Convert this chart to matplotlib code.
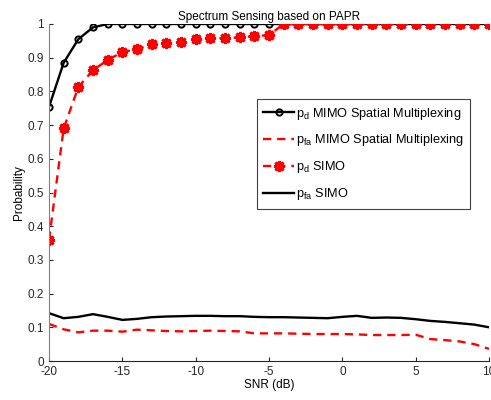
import matplotlib
matplotlib.use("Agg")
import matplotlib.pyplot as plt
import numpy as np

plt.rcParams['font.family'] = ['Liberation Sans', 'DejaVu Sans']
plt.rcParams['axes.unicode_minus'] = False

snr = np.arange(-20, 11, 1)

# detection probability, MIMO spatial multiplexing
pd_mimo = [0.754, 0.885, 0.955, 0.99, 1.0, 1.0, 1.0, 1.0, 1.0, 1.0, 1.0,
           1.0, 1.0, 1.0, 1.0, 1.0, 1.0, 1.0, 1.0, 1.0, 1.0,
           1.0, 1.0, 1.0, 1.0, 1.0, 1.0, 1.0, 1.0, 1.0, 1.0]
# false alarm probability, MIMO spatial multiplexing
pfa_mimo = [0.11, 0.094, 0.085, 0.09, 0.09, 0.087, 0.093, 0.091, 0.089, 0.088, 0.089,
            0.09, 0.089, 0.088, 0.082, 0.082, 0.082, 0.081, 0.08, 0.08, 0.08,
            0.079, 0.077, 0.077, 0.077, 0.078, 0.065, 0.062, 0.058, 0.05, 0.036]
# detection probability, SIMO
pd_simo = [0.36, 0.69, 0.813, 0.863, 0.893, 0.917, 0.925, 0.94, 0.943, 0.947, 0.955,
           0.958, 0.958, 0.96, 0.964, 0.967, 1.0, 1.0, 1.0, 1.0, 1.0,
           1.0, 1.0, 1.0, 1.0, 1.0, 1.0, 1.0, 1.0, 1.0, 1.0]
# false alarm probability, SIMO
pfa_simo = [0.142, 0.127, 0.131, 0.139, 0.131, 0.122, 0.125, 0.13, 0.132, 0.133, 0.134,
            0.134, 0.133, 0.133, 0.131, 0.13, 0.13, 0.129, 0.128, 0.127, 0.131,
            0.134, 0.128, 0.129, 0.128, 0.124, 0.119, 0.116, 0.112, 0.108, 0.1]

labels = [r'$\mathregular{p_d}$ MIMO Spatial Multiplexing',
          r'$\mathregular{p_{fa}}$ MIMO Spatial Multiplexing',
          r'$\mathregular{p_d}$ SIMO',
          r'$\mathregular{p_{fa}}$ SIMO']

fig = plt.figure(figsize=(4.91, 4.0), dpi=100)
ax = fig.add_axes([0.0998, 0.0975, 0.8962, 0.8425])

dash = (0, (3.5, 2.5))
ax.plot(snr, pd_mimo, color='black', lw=1.7, marker='o', ms=4.5,
        mfc='none', mew=1.4, label=labels[0])
ax.plot(snr, pfa_mimo, color='red', lw=1.7, ls=dash, label=labels[1])
ax.plot(snr, pd_simo, color='red', lw=1.7, ls=dash, marker=(8, 2, 0), ms=8,
        mew=2.1, label=labels[2])
ax.plot(snr, pfa_simo, color='black', lw=1.7, label=labels[3])

ax.set_xlim(-20, 10)
ax.set_ylim(0, 1)
ax.set_xticks(np.arange(-20, 11, 5))
ax.set_yticks(np.arange(0, 1.01, 0.1))
ax.set_yticklabels(['0', '0.1', '0.2', '0.3', '0.4', '0.5', '0.6', '0.7', '0.8', '0.9', '1'])
ax.tick_params(direction='in', labelsize=8.5, length=3, colors='#262626')
for s in ['top', 'right']:
    ax.spines[s].set_visible(False)
ax.spines['left'].set_color('#808080')
ax.spines['bottom'].set_color('#262626')

ax.set_xlabel('SNR (dB)', fontsize=8.5, labelpad=1)
ax.set_ylabel('Probability', fontsize=8.5, labelpad=2)
ax.set_title('Spectrum Sensing based on PAPR', fontsize=8.5, pad=3)

leg = ax.legend(loc='upper right', bbox_to_anchor=(0.957, 0.777), fontsize=9.2,
                fancybox=False, framealpha=1, edgecolor='#404040',
                handlelength=2.4, handletextpad=0.15, borderpad=0.5,
                labelspacing=0.85, borderaxespad=0)
leg.get_frame().set_linewidth(0.8)

fig.savefig('out.png', dpi=100)
